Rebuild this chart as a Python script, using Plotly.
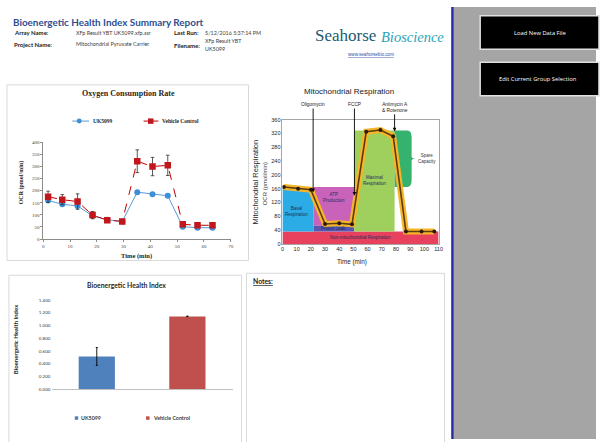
import plotly.graph_objects as go

W, H = 600, 442


def X(p):
    return p / W


def Y(p):
    return 1 - p / H


# ---------------- data ----------------
series_names = ["UK5099", "Vehicle Control"]

ocr_time = [1.8, 7.1, 12.8, 18.4, 23.9, 29.5, 35.1, 40.8, 46.5, 52.1, 57.6, 63.2]
uk5099_ocr = [160, 144, 137, 96, 80, 73, 194, 185, 179, 51, 47, 47]
uk5099_err = [8, 7, 7, 10, 5, 4, 6, 5, 6, 4, 4, 4]
vehicle_ocr = [175, 163, 155, 99, 78, 73, 322, 300, 305, 61, 57, 57]
vehicle_err = [23, 21, 32, 15, 5, 4, 47, 38, 42, 8, 5, 5]

mito_time = [1, 11, 20, 30, 40, 49, 59, 69, 78, 87, 98, 107]
mito_ocr = [165, 160, 157, 58, 60, 57, 325, 330, 312, 36, 36, 36]

# schematic regions: name, x0, x1, y0, y1, label x, label y
region_names = ["Non-mitochondrial Respiration", "Basal<br>Respiration", "ATP<br>Production",
                "Proton Leak", "Maximal<br>Respiration"]
region_x0 = [0, 0, 22, 22, 50.5]
region_x1 = [110, 22, 50.5, 50.5, 79]
region_y0 = [0, 36, 53, 36, 36]
region_y1 = [36, 162, 165, 53, 329]
region_label_x = [55, 10, 36, 36, 65]
region_label_y = [19, 93, 136, 44, 184]
spare_x = [79, 91]
spare_y = [165, 329]

injection_names = ["Oligomycin", "FCCP", "Antimycin A<br>& Rotenone"]
injection_time = [21.6, 50.7, 79]
injection_tip = [150, 140, 326]

bhi_groups = ["UK5099", "Vehicle Control"]
bhi_values = [0.515, 1.142]
bhi_err = [0.14, 0.005]

# ---------------- styles ----------------
SERIF = "Liberation Serif"
SANS = "Liberation Sans"
CAL = "Lato"
blue_line, blue_mk = "#5b9bd5", "#3d8fd6"
red_line, red_mk = "#c00000", "#c0161c"
bar_colors = ["#4f81bd", "#c0504d"]
region_colors = ["#e8415d", "#2cace6", "#c963b9", "#5856b0", "#9fd05e"]
spare_color = "#35b36e"

fig = go.Figure()

# OCR chart
fig.add_trace(go.Scatter(
    x=ocr_time, y=uk5099_ocr, name=series_names[0], mode="lines+markers",
    line=dict(color=blue_line, width=1),
    marker=dict(symbol="circle", size=6, color=blue_mk),
    error_y=dict(type="data", array=uk5099_err, color="#a6a6a6", thickness=0.8, width=1.5),
    xaxis="x", yaxis="y"))
fig.add_trace(go.Scatter(
    x=ocr_time, y=vehicle_ocr, name=series_names[1], mode="lines+markers",
    line=dict(color=red_line, width=1, dash="dash"),
    marker=dict(symbol="square", size=6.5, color=red_mk),
    error_y=dict(type="data", array=vehicle_err, color="#303030", thickness=0.8, width=1.8),
    xaxis="x", yaxis="y"))

# Mitochondrial respiration schematic
fig.add_trace(go.Scatter(
    x=mito_time, y=mito_ocr, mode="lines", line=dict(color="#f5b528", width=6),
    xaxis="x2", yaxis="y2", hoverinfo="skip"))
fig.add_trace(go.Scatter(
    x=mito_time, y=mito_ocr, mode="lines+markers", line=dict(color="#5e3a12", width=1.6),
    marker=dict(size=4, color="#2a1a08"), xaxis="x2", yaxis="y2"))

# BHI bars
fig.add_trace(go.Bar(
    x=bhi_groups, y=bhi_values, marker=dict(color=bar_colors, line=dict(width=0)), width=0.4,
    error_y=dict(type="data", array=bhi_err, color="#000000", thickness=0.9, width=1),
    xaxis="x3", yaxis="y3"))

shapes = []
# right grey panel & blue separator
shapes.append(dict(type="rect", xref="paper", yref="paper", x0=X(456), x1=1, y0=0, y1=Y(4),
                   fillcolor="#a5a5a5", line=dict(width=0), layer="below"))
shapes.append(dict(type="line", xref="paper", yref="paper", x0=X(455), x1=X(455), y0=0, y1=Y(4),
                   line=dict(color="#2a2aa8", width=2.5), layer="below"))
# buttons
for (t, b) in [(13, 47), (60, 94)]:
    shapes.append(dict(type="rect", xref="paper", yref="paper", x0=X(483), x1=X(603), y0=Y(b), y1=Y(t),
                       fillcolor="#000000", line=dict(color="#e0e0e0", width=1.5), layer="below"))
# chart frames
for (l, t, r, b) in [(5, 83, 249, 261), (7, 276, 242, 446), (247, 274, 447, 446)]:
    shapes.append(dict(type="rect", xref="paper", yref="paper", x0=X(l), x1=X(r), y0=Y(b), y1=Y(t),
                       fillcolor="rgba(0,0,0,0)", line=dict(color="#d9d9d9", width=1), layer="below"))
# schematic regions
for i in range(len(region_names)):
    shapes.append(dict(type="rect", xref="x2", yref="y2", x0=region_x0[i], x1=region_x1[i],
                       y0=region_y0[i], y1=region_y1[i], fillcolor=region_colors[i],
                       line=dict(width=0), layer="below"))
sx0, sx1 = spare_x
sy0, sy1 = spare_y
sm = (sy0 + sy1) / 2
spare_path = (f"M{sx0},{sy1} L{sx1-3},{sy1} Q{sx1},{sy1} {sx1},{sy1-20} L{sx1},{sm+7} "
              f"Q{sx1},{sm} {sx1+2.5},{sm} Q{sx1},{sm} {sx1},{sm-7} L{sx1},{sy0+20} "
              f"Q{sx1},{sy0} {sx1-3},{sy0} L{sx0},{sy0} Z")
shapes.append(dict(type="path", xref="x2", yref="y2", path=spare_path, fillcolor=spare_color,
                   line=dict(width=0), layer="below"))

ann = []


def txt(x, y, text, size, color="#000000", bold=False, family=SANS, xanchor="left", **kw):
    d = dict(x=x, y=y, xref="paper", yref="paper", text=f"<b>{text}</b>" if bold else text,
             showarrow=False, xanchor=xanchor, yanchor="middle",
             font=dict(size=size, color=color, family=family))
    d.update(kw)
    ann.append(d)


# header
txt(X(9), Y(19), "Bioenergetic Health Index Summary Report", 9.9, "#2e4f8f", True, CAL)
txt(X(10), Y(30), "Array Name:", 6, "#1a1a1a", True, CAL)
txt(X(73), Y(30), "XFp Result YBT UK5099.xfp.asr", 5.4, "#404040", False, CAL)
txt(X(172), Y(30), "Last Run:", 6, "#1a1a1a", True, CAL)
txt(X(203), Y(30), "5/12/2016 5:37:14 PM", 5.4, "#404040", False, CAL)
txt(X(10), Y(42), "Project Name:", 6, "#1a1a1a", True, CAL)
txt(X(73), Y(42), "Mitochondrial Pyruvate Carrier", 5.4, "#404040", False, CAL)
txt(X(172), Y(43), "Filename:", 6, "#1a1a1a", True, CAL)
txt(X(203), Y(38.5), "XFp Result YBT", 5.4, "#404040", False, CAL)
txt(X(203), Y(46.5), "UK5099", 5.4, "#404040", False, CAL)
# logo
txt(X(314), Y(33), "Seahorse", 17, "#1d5a70", False, SERIF)
txt(X(381), Y(34), "<i>Bioscience</i>", 14.5, "#2aa3b8", False, SERIF)
txt(X(373), Y(52), "<u>www.seahorsebio.com</u>", 4.6, "#3050a0", False, SANS, xanchor="center")
# buttons
txt(X(543), Y(30), "Load New Data File", 5.8, "#ffffff", False, "Open Sans", xanchor="center")
txt(X(541), Y(77), "Edit Current Group Selection", 5.8, "#ffffff", False, "Open Sans", xanchor="center")

# OCR chart texts
txt(X(128), Y(92), "Oxygen Consumption Rate", 8, "#262626", True, SERIF, xanchor="center")
txt(X(20), Y(182), "OCR (pmol/min)", 6, "#262626", True, SERIF, xanchor="center", textangle=-90)
txt(X(136), Y(256), "Time (min)", 6.5, "#262626", True, SERIF, xanchor="center")
# OCR legend (manual)
shapes.append(dict(type="line", xref="paper", yref="paper", x0=X(71), x1=X(88), y0=Y(119.7), y1=Y(119.7),
                   line=dict(color=blue_line, width=1)))
shapes.append(dict(type="circle", xref="paper", yref="paper", x0=X(75.5), x1=X(80.5), y0=Y(122.2), y1=Y(117.2),
                   fillcolor=blue_mk, line=dict(width=0)))
txt(X(90), Y(119.7), series_names[0], 5.5, "#262626", True, SERIF)
shapes.append(dict(type="line", xref="paper", yref="paper", x0=X(143), x1=X(158), y0=Y(119.7), y1=Y(119.7),
                   line=dict(color=red_line, width=1)))
shapes.append(dict(type="rect", xref="paper", yref="paper", x0=X(147.5), x1=X(153), y0=Y(122.5), y1=Y(117),
                   fillcolor=red_mk, line=dict(width=0)))
txt(X(160), Y(119.7), series_names[1], 5.5, "#262626", True, SERIF)

# Mito texts
txt(X(351), Y(90), "Mitochondrial Respiration", 8, "#1a1a1a", False, SANS, xanchor="center")
txt(X(256.5), Y(181), "Mitochondrial Respiration", 7.5, "#262626", False, SANS, xanchor="center",
    textangle=-90)
txt(X(265.5), Y(183), "OCR (pmol/min)", 6, "#404040", False, SANS, xanchor="center", textangle=-90)
txt(X(354), Y(262.5), "Time (min)", 6.3, "#262626", False, SANS, xanchor="center")
for i, nm in enumerate(region_names):
    ann.append(dict(x=region_label_x[i], y=region_label_y[i], xref="x2", yref="y2", text=nm,
                    showarrow=False, font=dict(size=4.5, color="#1f2d5a", family=SANS)))
ann.append(dict(x=102, y=(sy0 + sy1) / 2, xref="x2", yref="y2", text="Spare<br>Capacity",
                showarrow=False, font=dict(size=4.5, color="#333333", family=SANS)))
label_y = [404, 404, 396]
for i, nm in enumerate(injection_names):
    ann.append(dict(x=injection_time[i], y=injection_tip[i], xref="x2", yref="y2",
                    ax=injection_time[i], ay=label_y[i], axref="x2", ayref="y2", text=nm,
                    showarrow=True, arrowhead=2, arrowsize=0.8, arrowwidth=0.9, arrowcolor="#000000",
                    standoff=0, font=dict(size=4.8, color="#1a1a1a", family=SANS)))

# BHI texts
txt(X(126), Y(285.5), "Bioenergetic Health Index", 6.8, "#262626", True, CAL, xanchor="center")
txt(X(14), Y(341), "Bioenergetic Health Index", 6, "#262626", True, CAL, xanchor="center",
    textangle=-90)
shapes.append(dict(type="rect", xref="paper", yref="paper", x0=X(73.5), x1=X(77), y0=Y(422.5), y1=Y(419),
                   fillcolor=bar_colors[0], line=dict(width=0)))
txt(X(78), Y(420.7), bhi_groups[0], 5.3, "#404040", True, CAL)
shapes.append(dict(type="rect", xref="paper", yref="paper", x0=X(145.5), x1=X(149), y0=Y(422.5), y1=Y(419),
                   fillcolor=bar_colors[1], line=dict(width=0)))
txt(X(150), Y(420.7), bhi_groups[1], 5.3, "#404040", True, CAL)

# Notes
txt(X(252), Y(282), "<u>Notes:</u>", 6.8, "#1a1a1a", True, CAL)

axis_common = dict(showgrid=False, zeroline=False, fixedrange=True)
fig.update_layout(
    width=W, height=H, margin=dict(l=0, r=0, t=0, b=0),
    paper_bgcolor="#ffffff", plot_bgcolor="rgba(0,0,0,0)", showlegend=False,
    xaxis=dict(domain=[X(41.7), X(231)], range=[0, 70], dtick=10, anchor="y",
               showline=True, linecolor="#8c8c8c", linewidth=0.8, ticks="outside", ticklen=2,
               tickcolor="#8c8c8c", tickfont=dict(size=5, family=SERIF, color="#404040"), **axis_common),
    yaxis=dict(domain=[Y(239.3), Y(141.3)], range=[0, 400], dtick=50, anchor="x",
               showline=True, linecolor="#8c8c8c", linewidth=0.8, ticks="outside", ticklen=2,
               tickcolor="#8c8c8c", tickfont=dict(size=5, family=SERIF, color="#404040"), **axis_common),
    xaxis2=dict(domain=[X(283.3), X(441)], range=[0, 110], dtick=10, anchor="y2",
                showline=True, mirror=True, linecolor="#a6a6a6", linewidth=0.8,
                tickfont=dict(size=5.5, family=SANS, color="#262626"), **axis_common),
    yaxis2=dict(domain=[Y(244.3), Y(118.3)], range=[0, 360], dtick=40, anchor="x2",
                showline=True, mirror=True, linecolor="#a6a6a6", linewidth=0.8,
                tickfont=dict(size=5.5, family=SANS, color="#262626"), **axis_common),
    xaxis3=dict(domain=[X(50), X(233)], type="category", anchor="y3", showline=True,
                linecolor="#bfbfbf", linewidth=0.8, showticklabels=False, **axis_common),
    yaxis3=dict(domain=[Y(391.7), Y(301)], range=[0, 1.4], dtick=0.2, tickformat=".3f", anchor="x3",
                showline=False, tickfont=dict(size=4.6, family=CAL, color="#404040"), **axis_common),
    shapes=shapes, annotations=ann,
)

fig.write_html("out.html", config={"displayModeBar": False},
               post_script="document.body.style.margin='0';document.body.style.overflow='hidden';")
